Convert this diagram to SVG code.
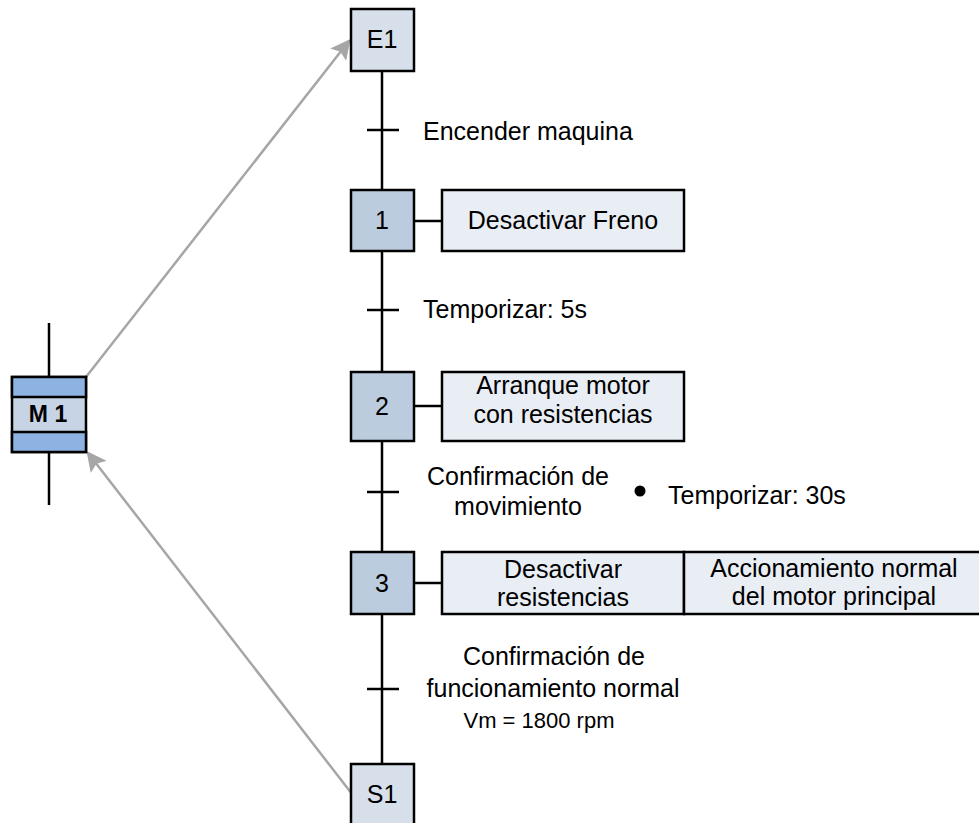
<svg xmlns="http://www.w3.org/2000/svg" width="979" height="823" viewBox="0 0 979 823">
  <defs>
    <marker id="grayArrow" markerWidth="8" markerHeight="8" refX="7" refY="4" orient="auto" markerUnits="strokeWidth">
      <path d="M0,0 L8,4 L0,8 L1.5,4 Z" fill="#A6A6A6"/>
    </marker>
    <style>
      .txt { font-family: "Liberation Sans", Arial, sans-serif; font-size: 25px; fill: #000; }
      .mid { text-anchor: middle; }
      .step-end { fill: #D6DFEA; stroke: #000; stroke-width: 2.5; }
      .step { fill: #BCCCDF; stroke: #000; stroke-width: 2.5; }
      .action { fill: #E9EDF4; stroke: #000; stroke-width: 2.5; }
      .line { stroke: #000; stroke-width: 2.5; fill: none; }
      .link { stroke: #A6A6A6; stroke-width: 2.5; fill: none; marker-end: url(#grayArrow); }
    </style>
  </defs>

  <rect width="979" height="823" fill="#FFFFFF"/>

  <!-- connectors: main sequence line, transitions, action links, motor links -->
  <g id="connectors">
    <line class="line" x1="382" y1="71" x2="382" y2="764"/>
    <line class="line" x1="367" y1="130" x2="399" y2="130"/>
    <line class="line" x1="367" y1="310" x2="399" y2="310"/>
    <line class="line" x1="367" y1="492" x2="399" y2="492"/>
    <line class="line" x1="367" y1="689" x2="399" y2="689"/>
    <line class="line" x1="414" y1="221" x2="442" y2="221"/>
    <line class="line" x1="414" y1="406" x2="442" y2="406"/>
    <line class="line" x1="414" y1="583" x2="442" y2="583"/>
    <line class="line" x1="49" y1="323" x2="49" y2="377"/>
    <line class="line" x1="49" y1="452" x2="49" y2="505"/>
    <line class="link" x1="86" y1="377" x2="349" y2="41"/>
    <line class="link" x1="352" y1="794" x2="88" y2="453"/>
  </g>

  <!-- transition conditions -->
  <g id="transitions">
    <text class="txt" x="423" y="140">Encender maquina</text>
    <text class="txt" x="423" y="318">Temporizar: 5s</text>
    <text class="txt mid" x="518" y="485">Confirmación de</text>
    <text class="txt mid" x="518" y="515">movimiento</text>
    <circle cx="640" cy="491" r="5.5" fill="#000"/>
    <text class="txt" x="668" y="504">Temporizar: 30s</text>
    <text class="txt mid" x="554" y="665">Confirmación de</text>
    <text class="txt mid" x="553" y="697">funcionamiento normal</text>
    <text class="txt mid" x="539" y="728" style="font-size:22px">Vm = 1800 rpm</text>
  </g>

  <g id="M1">
    <rect x="12" y="377" width="74" height="75" fill="#C6D4E6" stroke="#000" stroke-width="2.5"/>
    <rect x="12" y="377" width="74" height="20" fill="#8DB3E2" stroke="#000" stroke-width="2.5"/>
    <rect x="12" y="432" width="74" height="20" fill="#8DB3E2" stroke="#000" stroke-width="2.5"/>
    <text class="txt mid" x="48" y="422" style="font-size:23px;font-weight:bold">M 1</text>
  </g>

  <g id="E1">
    <rect class="step-end" x="351" y="9" width="63" height="62"/>
    <text class="txt mid" x="382" y="48">E1</text>
  </g>

  <g id="step1">
    <rect class="step" x="351" y="190" width="63" height="61"/>
    <text class="txt mid" x="382" y="229">1</text>
  </g>
  <g id="action1">
    <rect class="action" x="442" y="190" width="242" height="61"/>
    <text class="txt mid" x="563" y="229">Desactivar Freno</text>
  </g>

  <g id="step2">
    <rect class="step" x="351" y="372" width="63" height="69"/>
    <text class="txt mid" x="382" y="415">2</text>
  </g>
  <g id="action2">
    <rect class="action" x="442" y="372" width="242" height="69"/>
    <text class="txt mid" x="563" y="394">Arranque motor</text>
    <text class="txt mid" x="563" y="423">con resistencias</text>
  </g>

  <g id="step3">
    <rect class="step" x="351" y="552" width="63" height="62"/>
    <text class="txt mid" x="382" y="592">3</text>
  </g>
  <g id="action3a">
    <rect class="action" x="442" y="552" width="242" height="62"/>
    <text class="txt mid" x="563" y="578">Desactivar</text>
    <text class="txt mid" x="563" y="606">resistencias</text>
  </g>
  <g id="action3b">
    <rect class="action" x="684" y="552" width="300" height="62"/>
    <text class="txt mid" x="834" y="577">Accionamiento normal</text>
    <text class="txt mid" x="834" y="605">del motor principal</text>
  </g>

  <g id="S1">
    <rect class="step-end" x="351" y="764" width="63" height="65"/>
    <text class="txt mid" x="382" y="803">S1</text>
  </g>
</svg>
